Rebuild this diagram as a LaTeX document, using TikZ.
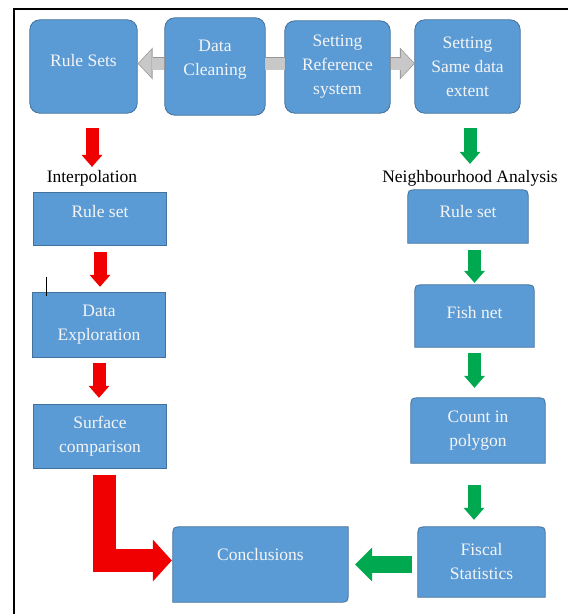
\documentclass[tikz,border=0pt]{standalone}
\usepackage{fontspec}
\setmainfont{Liberation Serif}
\newfontfamily\flowfont{Liberation Serif}
\usetikzlibrary{arrows.meta}
\pgfdeclarelayer{bg}
\pgfsetlayers{bg,main}

\begin{document}
\begin{tikzpicture}[x=1pt, y=-1pt,
    flowbox/.style={rectangle, inner sep=0pt, align=center, text=boxtext, font=\flowfont\fontsize{17.5}{24}\selectfont},
    lift/.style={text height=12pt, text depth=#1},
    caption/.style={inner sep=0pt, font=\flowfont\fontsize{17.5}{24}\selectfont},
    boxfill/.style={fill=boxblue, draw=boxedge, line width=0.8pt},
    redarrow/.style={draw=arrowred, line width=13pt, -{Triangle[length=12pt, width=21pt, line width=0pt]}},
    greenarrow/.style={draw=arrowgreen, line width=13pt, -{Triangle[length=12pt, width=21pt, line width=0pt]}},
    grayedge/.style={draw=arrowedge, line width=13.6pt, -{Triangle[length=15pt, width=32pt, line width=0pt]}},
    grayarrow/.style={draw=arrowgray, line width=12pt, -{Triangle[length=13pt, width=28pt, line width=0pt]}}]
    % Define colors
    \definecolor{boxblue}{RGB}{91,155,213}
    \definecolor{boxedge}{RGB}{65,113,156}
    \definecolor{boxtext}{RGB}{244,244,244}
    \definecolor{arrowred}{RGB}{240,0,0}
    \definecolor{arrowgreen}{RGB}{0,168,80}
    \definecolor{arrowgray}{RGB}{200,200,200}
    \definecolor{arrowedge}{RGB}{150,150,150}

    % Define dimensions
    \def\corner{10pt}

    \useasboundingbox (0,0) rectangle (568,614);

    % Frame
    \draw[line width=2pt] (14,614) -- (14,9) -- (568,9);
    \draw[line width=0.8pt] (46,277) -- (46,296);

    % Top row
    \node[flowbox, lift=13pt, minimum width=107pt, minimum height=93pt] (rules) at (83.5,66.5) {Rule Sets};
    \node[flowbox, text height=29pt, text depth=12pt, minimum width=100pt, minimum height=97pt] (clean) at (215,66.5) {Data\\Cleaning};
    \node[flowbox, minimum width=105pt, minimum height=92pt] (setref) at (337.5,67) {Setting\\Reference\\system};
    \node[flowbox, minimum width=105pt, minimum height=93pt] (extent) at (467.5,66.5) {Setting\\Same data\\extent};

    % Interpolation branch (left)
    \node[caption] (interp) at (92,178) {Interpolation};
    \node[flowbox, lift=16pt, minimum width=132pt, minimum height=52pt] (rsl) at (100,219) {Rule set};
    \node[flowbox, minimum width=132pt, minimum height=64pt] (dexp) at (99,325) {Data\\Exploration};
    \node[flowbox, minimum width=132pt, minimum height=63pt] (surf) at (100,436.5) {Surface\\comparison};

    % Neighbourhood branch (right)
    \node[caption] (neigh) at (470,178) {Neighbourhood Analysis};
    \node[flowbox, lift=11pt, minimum width=120pt, minimum height=53pt] (rsr) at (468,216.5) {Rule set};
    \node[flowbox, lift=8pt, minimum width=119pt, minimum height=62pt] (fish) at (474.5,316) {Fish net};
    \node[flowbox, minimum width=134pt, minimum height=65pt] (count) at (478,430.5) {Count in\\polygon};
    \node[flowbox, minimum width=127pt, minimum height=70pt] (fiscal) at (481.5,562) {Fiscal\\Statistics};

    % Result
    \node[flowbox, lift=21pt, minimum width=175pt, minimum height=75pt] (concl) at (260.5,564.5) {Conclusions};

    % Box shapes
    \begin{pgfonlayer}{bg}
        \foreach \n in {rules, clean, setref, extent} {
            \filldraw[boxfill, rounded corners=\corner] (\n.south west) rectangle (\n.north east);
        }
        \foreach \n in {rsl, dexp, surf} {
            \filldraw[boxfill] (\n.south west) rectangle (\n.north east);
        }
        % rounded top corners only
        \foreach \n in {rsr, fish, count, fiscal} {
            \filldraw[boxfill] (\n.south west) -- ([yshift=-\corner]\n.north west)
                .. controls (\n.north west) .. ([xshift=\corner]\n.north west)
                -- ([xshift=-\corner]\n.north east)
                .. controls (\n.north east) .. ([yshift=-\corner]\n.north east)
                -- (\n.south east) -- cycle;
        }
        % rounded top left and bottom right
        \filldraw[boxfill] ([yshift=-\corner]concl.north west)
            .. controls (concl.north west) .. ([xshift=\corner]concl.north west)
            -- (concl.north east) -- ([yshift=\corner]concl.south east)
            .. controls (concl.south east) .. ([xshift=-\corner]concl.south east)
            -- (concl.south west) -- cycle;
    \end{pgfonlayer}

    % Gray arrows
    \begin{pgfonlayer}{bg}
        \draw[grayedge, -] ([yshift=3pt]clean.east) -- ([yshift=3pt]setref.west |- clean.east);
    \end{pgfonlayer}
    \draw[grayedge, shorten >=0.5pt] ([yshift=3pt]clean.west) -- ([yshift=3pt]rules.east);
    \draw[grayarrow, shorten >=1.5pt, shorten <=0.8pt] ([yshift=3pt]clean.west) -- ([yshift=3pt]rules.east);
    \draw[grayarrow, -] ([yshift=3pt]clean.east) -- ([yshift=3pt]setref.west |- clean.east);
    \draw[grayedge] ([yshift=3pt]setref.east |- extent.west) -- ([yshift=3pt]extent.west);
    \draw[grayarrow, shorten >=1pt, shorten <=0.8pt] ([yshift=3pt]setref.east |- extent.west) -- ([yshift=3pt]extent.west);

    % Red arrows
    \draw[redarrow, shorten <=15pt, shorten >=3pt] (interp.north |- rules.south) -- (interp.north);
    \draw[redarrow, shorten <=7pt, shorten >=6pt] (rsl.south) -- (rsl.south |- dexp.north);
    \draw[redarrow, shorten <=6pt, shorten >=7pt] (dexp.south) -- (dexp.south |- surf.north);
    \draw[redarrow, line width=23pt, -{Triangle[length=19pt, width=42pt, line width=0pt]}, shorten >=1pt]
        ([shift={(4.5,7)}]surf.south) |- ([shift={(0,-4)}]concl.west);

    % Green arrows
    \draw[greenarrow, shorten <=15pt, shorten >=6pt] (neigh.north |- extent.south) -- (neigh.north);
    \draw[greenarrow, shorten <=7pt, shorten >=2pt] (fish.north |- rsr.south) -- (fish.north);
    \draw[greenarrow, shorten <=6pt, shorten >=10pt] (fish.south) -- (fish.south |- count.north);
    \draw[greenarrow, shorten <=22pt, shorten >=7pt] ([xshift=-4pt]count.south) -- ([xshift=-4pt]count.south |- fiscal.north);
    \draw[greenarrow, line width=17pt, -{Triangle[length=17pt, width=34pt, line width=0pt]}, shorten <=6pt, shorten >=7pt]
        (fiscal.west |- concl.east) -- (concl.east);
\end{tikzpicture}
\end{document}
